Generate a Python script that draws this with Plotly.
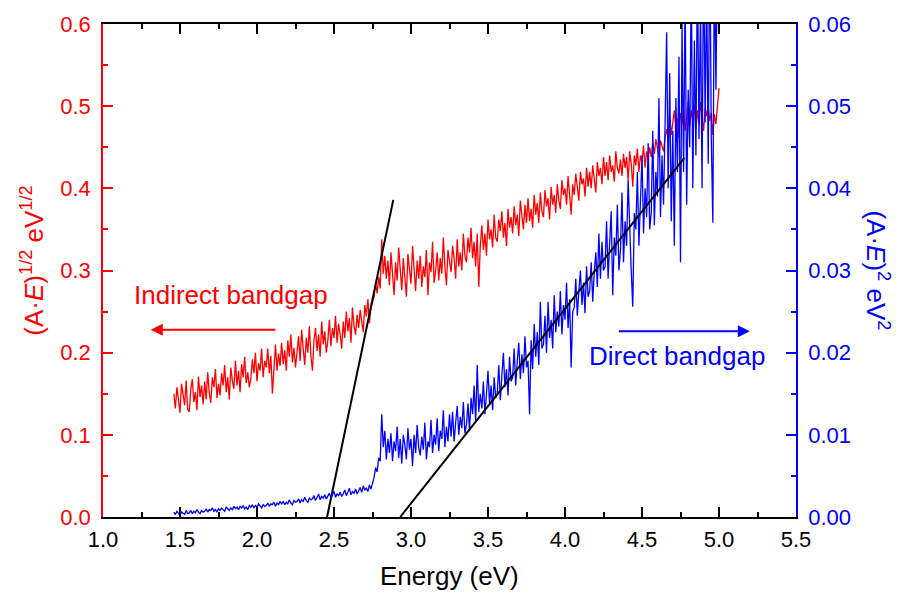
import numpy as np
import plotly.graph_objects as go

# Energy grid (eV), step 0.01 starting at 1.46
e_start = 1.46
e_step = 0.01

# Indirect: (A·E)^1/2 values (left axis)
red_vals = [
    0.150, 0.132, 0.158, 0.141, 0.127, 0.162, 0.149, 0.136, 0.166, 0.131,
    0.128, 0.155, 0.168, 0.140, 0.152, 0.130, 0.171, 0.146, 0.160, 0.137,
    0.165, 0.143, 0.176, 0.151, 0.139, 0.170, 0.158, 0.180, 0.145, 0.162,
    0.148, 0.175, 0.160, 0.185, 0.152, 0.170, 0.143, 0.182, 0.166, 0.156,
    0.190, 0.160, 0.178, 0.152, 0.186, 0.170, 0.195, 0.163, 0.176, 0.158,
    0.168, 0.192, 0.175, 0.200, 0.165, 0.187, 0.178, 0.205, 0.170, 0.190,
    0.182, 0.205, 0.175, 0.196, 0.150, 0.188, 0.210, 0.178, 0.199, 0.184,
    0.212, 0.186, 0.203, 0.178, 0.215, 0.195, 0.222, 0.188, 0.206, 0.182,
    0.198, 0.220, 0.190, 0.228, 0.205, 0.185, 0.218, 0.200, 0.232, 0.196,
    0.178, 0.215, 0.230, 0.202, 0.222, 0.195, 0.238, 0.210, 0.226, 0.200,
    0.215, 0.240, 0.208, 0.230, 0.218, 0.245, 0.212, 0.235, 0.222, 0.205,
    0.238, 0.218, 0.250, 0.226, 0.242, 0.212, 0.255, 0.232, 0.222, 0.246,
    0.230, 0.252, 0.238, 0.225, 0.258, 0.244, 0.265, 0.236, 0.255, 0.262,
    0.268, 0.285, 0.272, 0.292, 0.278, 0.338, 0.296, 0.318, 0.290, 0.312,
    0.282, 0.322, 0.295, 0.270, 0.310, 0.288, 0.328, 0.300, 0.276, 0.315,
    0.292, 0.268, 0.320, 0.302, 0.284, 0.330, 0.296, 0.275, 0.312, 0.290,
    0.318, 0.280, 0.305, 0.292, 0.325, 0.270, 0.310, 0.298, 0.335, 0.285,
    0.300, 0.322, 0.288, 0.315, 0.296, 0.340, 0.305, 0.282, 0.325, 0.310,
    0.298, 0.330, 0.315, 0.290, 0.338, 0.305, 0.322, 0.300, 0.345, 0.318,
    0.310, 0.340, 0.322, 0.352, 0.315, 0.335, 0.305, 0.345, 0.280, 0.330,
    0.355, 0.325, 0.345, 0.318, 0.362, 0.338, 0.350, 0.328, 0.368, 0.340,
    0.335, 0.362, 0.348, 0.372, 0.340, 0.358, 0.330, 0.375, 0.352, 0.365,
    0.345, 0.378, 0.355, 0.368, 0.342, 0.385, 0.362, 0.350, 0.380, 0.358,
    0.388, 0.360, 0.375, 0.352, 0.392, 0.368, 0.382, 0.358, 0.395, 0.372,
    0.365, 0.398, 0.378, 0.388, 0.362, 0.402, 0.380, 0.392, 0.370, 0.405,
    0.385, 0.375, 0.410, 0.392, 0.400, 0.380, 0.415, 0.395, 0.368, 0.405,
    0.392, 0.418, 0.398, 0.385, 0.420, 0.405, 0.412, 0.390, 0.425, 0.402,
    0.420, 0.400, 0.428, 0.410, 0.395, 0.432, 0.415, 0.425, 0.405, 0.438,
    0.415, 0.432, 0.410, 0.440, 0.420, 0.428, 0.408, 0.445, 0.425, 0.418,
    0.435, 0.415, 0.442, 0.425, 0.438, 0.410, 0.445, 0.430, 0.402, 0.440,
    0.428, 0.448, 0.420, 0.440, 0.432, 0.452, 0.425, 0.445, 0.435, 0.450,
    0.438, 0.455, 0.442, 0.460, 0.448, 0.438, 0.458, 0.450, 0.445, 0.462,
    0.472, 0.458, 0.488, 0.465, 0.480, 0.495, 0.470, 0.485, 0.462, 0.492,
    0.478, 0.498, 0.470, 0.490, 0.505, 0.475, 0.495, 0.482, 0.502, 0.472,
    0.495, 0.478, 0.505, 0.485, 0.470, 0.498, 0.488, 0.500, 0.482, 0.492,
    0.465, 0.490, 0.478, 0.500, 0.522,
]

# Direct: (A·E)^2 values (right axis)
blue_vals = [
    0.0006, 0.0003, 0.0007, 0.0004, 0.0002, 0.0006, 0.0005, 0.0003, 0.0008, 0.0004,
    0.0005, 0.0008, 0.0004, 0.0007, 0.0005, 0.0009, 0.0006, 0.0004, 0.0008, 0.0006,
    0.0007, 0.0010, 0.0006, 0.0009, 0.0008, 0.0011, 0.0007, 0.0009, 0.0006, 0.0010,
    0.0008, 0.0011, 0.0009, 0.0007, 0.0012, 0.0010, 0.0008, 0.0011, 0.0009, 0.0013,
    0.0010, 0.0012, 0.0009, 0.0013, 0.0011, 0.0014, 0.0010, 0.0012, 0.0009, 0.0014,
    0.0012, 0.0015, 0.0011, 0.0014, 0.0012, 0.0016, 0.0013, 0.0011, 0.0015, 0.0013,
    0.0014, 0.0017, 0.0013, 0.0016, 0.0015, 0.0018, 0.0013, 0.0017, 0.0015, 0.0019,
    0.0016, 0.0019, 0.0015, 0.0018, 0.0016, 0.0021, 0.0017, 0.0015, 0.0020, 0.0018,
    0.0019, 0.0022, 0.0017, 0.0021, 0.0019, 0.0024, 0.0020, 0.0018, 0.0023, 0.0021,
    0.0022, 0.0026, 0.0020, 0.0024, 0.0028, 0.0021, 0.0025, 0.0023, 0.0027, 0.0022,
    0.0025, 0.0029, 0.0023, 0.0027, 0.0031, 0.0024, 0.0028, 0.0026, 0.0030, 0.0025,
    0.0028, 0.0033, 0.0026, 0.0030, 0.0035, 0.0027, 0.0031, 0.0029, 0.0034, 0.0028,
    0.0032, 0.0036, 0.0030, 0.0038, 0.0033, 0.0035, 0.0031, 0.0039, 0.0034, 0.0042,
    0.0048, 0.0060, 0.0055, 0.0072, 0.0068, 0.0125, 0.0085, 0.0105, 0.0070, 0.0095,
    0.0078, 0.0102, 0.0068, 0.0092, 0.0080, 0.0110, 0.0072, 0.0095, 0.0065, 0.0100,
    0.0088, 0.0070, 0.0108, 0.0082, 0.0095, 0.0062, 0.0100, 0.0078, 0.0112, 0.0085,
    0.0075, 0.0098, 0.0082, 0.0115, 0.0070, 0.0092, 0.0085, 0.0118, 0.0078, 0.0100,
    0.0088, 0.0120, 0.0080, 0.0105, 0.0095, 0.0130, 0.0085, 0.0110, 0.0092, 0.0125,
    0.0098, 0.0128, 0.0092, 0.0115, 0.0135, 0.0100, 0.0122, 0.0108, 0.0140, 0.0102,
    0.0112, 0.0138, 0.0105, 0.0145, 0.0125, 0.0160, 0.0115, 0.0185, 0.0128, 0.0150,
    0.0132, 0.0165, 0.0125, 0.0150, 0.0178, 0.0138, 0.0160, 0.0130, 0.0170, 0.0145,
    0.0150, 0.0185, 0.0142, 0.0172, 0.0200, 0.0158, 0.0180, 0.0148, 0.0195, 0.0165,
    0.0170, 0.0205, 0.0160, 0.0190, 0.0212, 0.0168, 0.0198, 0.0175, 0.0220, 0.0182,
    0.0190, 0.0125, 0.0215, 0.0180, 0.0235, 0.0195, 0.0225, 0.0185, 0.0262, 0.0205,
    0.0210, 0.0245, 0.0200, 0.0262, 0.0218, 0.0240, 0.0205, 0.0270, 0.0225, 0.0250,
    0.0232, 0.0275, 0.0222, 0.0258, 0.0240, 0.0285, 0.0230, 0.0265, 0.0182, 0.0250,
    0.0255, 0.0290, 0.0245, 0.0275, 0.0300, 0.0258, 0.0285, 0.0248, 0.0305, 0.0268,
    0.0275, 0.0310, 0.0262, 0.0298, 0.0322, 0.0280, 0.0345, 0.0290, 0.0335, 0.0300,
    0.0305, 0.0360, 0.0290, 0.0335, 0.0372, 0.0270, 0.0340, 0.0318, 0.0380, 0.0300,
    0.0325, 0.0395, 0.0310, 0.0360, 0.0330, 0.0410, 0.0345, 0.0300, 0.0256, 0.0370,
    0.0350, 0.0420, 0.0330, 0.0385, 0.0440, 0.0345, 0.0400, 0.0365, 0.0455, 0.0350,
    0.0370, 0.0470, 0.0355, 0.0420, 0.0390, 0.0510, 0.0365, 0.0440, 0.0380, 0.0480,
    0.0590, 0.0400, 0.0540, 0.0360, 0.0470, 0.0330, 0.0510, 0.0420, 0.0560, 0.0310,
    0.0600, 0.0420, 0.0640, 0.0380, 0.0520, 0.0450, 0.0660, 0.0400, 0.0580, 0.0440,
    0.0680, 0.0460, 0.0620, 0.0400, 0.0700, 0.0480, 0.0650, 0.0430, 0.0720, 0.0460,
    0.0358, 0.0680, 0.0520, 0.0700, 0.0650,
]

energy = np.round(e_start + e_step * np.arange(len(red_vals)), 2)

# Linear fits (end points)
fit_ind_x = [2.455, 2.885]
fit_ind_y = [0.0, 0.386]
fit_dir_x = [2.93, 4.775]
fit_dir_y = [0.0, 0.0437]

FONT = "Arial, Liberation Sans, sans-serif"
RED = "#FF0000"
BLUE = "#0000FF"

fig = go.Figure()
fig.add_trace(go.Scatter(x=energy, y=red_vals, mode="lines",
                         line=dict(color=RED, width=1.3), yaxis="y", showlegend=False))
fig.add_trace(go.Scatter(x=energy, y=blue_vals, mode="lines",
                         line=dict(color=BLUE, width=1.3), yaxis="y2", showlegend=False))
fig.add_trace(go.Scatter(x=fit_ind_x, y=fit_ind_y, mode="lines",
                         line=dict(color="black", width=2), yaxis="y", showlegend=False))
fig.add_trace(go.Scatter(x=fit_dir_x, y=fit_dir_y, mode="lines",
                         line=dict(color="black", width=2), yaxis="y2", showlegend=False))

fig.update_layout(
    width=900, height=597,
    margin=dict(l=103, r=104, t=13, b=80),
    paper_bgcolor="white", plot_bgcolor="white",
    font=dict(family=FONT, size=22, color="black"),
    xaxis=dict(
        range=[1.0, 5.5], dtick=0.5, tick0=1.0, tickformat=".1f",
        showgrid=False, zeroline=False,
        showline=True, linecolor="black", linewidth=1.5, mirror="ticks",
        ticks="inside", ticklen=10, tickwidth=1.5, tickcolor="black",
        minor=dict(ticks="inside", ticklen=5, tickwidth=1.5, dtick=0.25, tickcolor="black"),
        tickfont=dict(size=22), ticklabelstandoff=2,
    ),
    yaxis=dict(
        range=[0, 0.6], dtick=0.1, tickformat=".1f",
        showgrid=False, zeroline=False,
        showline=True, linecolor=RED, linewidth=1.5,
        ticks="inside", ticklen=10, tickwidth=1.5, tickcolor=RED,
        minor=dict(ticks="inside", ticklen=5, tickwidth=1.5, dtick=0.05, tickcolor=RED),
        tickfont=dict(color=RED, size=22), ticklabelstandoff=6,
    ),
    yaxis2=dict(
        range=[0, 0.06], dtick=0.01, tickformat=".2f",
        overlaying="y", side="right",
        showgrid=False, zeroline=False,
        showline=True, linecolor=BLUE, linewidth=1.5,
        ticks="inside", ticklen=10, tickwidth=1.5, tickcolor=BLUE,
        minor=dict(ticks="inside", ticklen=5, tickwidth=1.5, dtick=0.005, tickcolor=BLUE),
        tickfont=dict(color=BLUE, size=22), ticklabelstandoff=6,
    ),
)

annotations = [
    # Axis titles
    dict(text="Energy (eV)", xref="paper", yref="paper", x=0.5, y=-0.119,
         showarrow=False, xanchor="center", yanchor="middle",
         font=dict(family=FONT, size=26, color="black")),
    dict(text="(A·<i>E</i>)<sup>1/2</sup> eV<sup>1/2</sup>", xref="paper", yref="paper",
         x=-0.101, y=0.52, showarrow=False, textangle=-90,
         font=dict(family=FONT, size=26, color=RED), xanchor="center", yanchor="middle"),
    dict(text="(A·<i>E</i>)<sup>2</sup> eV<sup>2</sup>", xref="paper", yref="paper",
         x=1.117, y=0.5, showarrow=False, textangle=90,
         font=dict(family=FONT, size=26, color=BLUE), xanchor="center", yanchor="middle"),
    # Labels
    dict(text="Indirect bandgap", xref="x", yref="y", x=1.83, y=0.27, showarrow=False,
         font=dict(family=FONT, size=26, color=RED)),
    dict(text="Direct bandgap", xref="x", yref="y", x=4.73, y=0.196, showarrow=False,
         font=dict(family=FONT, size=26, color=BLUE)),
    # Arrows
    dict(x=1.31, y=0.228, ax=2.13, ay=0.228, xref="x", yref="y", axref="x", ayref="y",
         text="", showarrow=True, arrowhead=2, arrowsize=1.2, arrowwidth=2, arrowcolor=RED),
    dict(x=5.2, y=0.226, ax=4.34, ay=0.226, xref="x", yref="y", axref="x", ayref="y",
         text="", showarrow=True, arrowhead=2, arrowsize=1.2, arrowwidth=2, arrowcolor=BLUE),
]
fig.update_layout(annotations=annotations)

fig.write_html("out.html")
